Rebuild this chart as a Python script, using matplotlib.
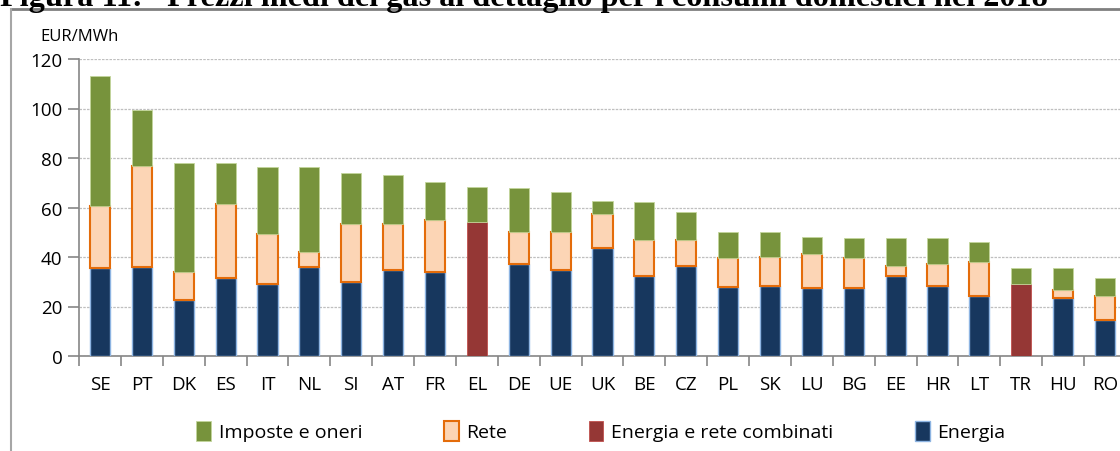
import matplotlib
matplotlib.use("Agg")
import matplotlib.pyplot as plt
from matplotlib.lines import Line2D
from matplotlib.patches import Patch
import numpy as np

# valori (EUR/MWh)
paesi = ["SE", "PT", "DK", "ES", "IT", "NL", "SI", "AT", "FR", "EL", "DE", "UE", "UK",
         "BE", "CZ", "PL", "SK", "LU", "BG", "EE", "HR", "LT", "TR", "HU", "RO"]
energia = [35.6, 36.0, 22.8, 31.7, 29.2, 36.0, 30.0, 34.8, 34.1, 0, 37.2, 34.7, 43.6,
           32.3, 36.4, 27.7, 28.4, 27.5, 27.5, 32.3, 28.4, 24.4, 0, 23.3, 14.4]
rete = [24.9, 40.8, 11.0, 29.6, 20.0, 5.9, 23.2, 18.4, 20.9, 0, 12.8, 15.3, 13.6,
        14.6, 10.5, 11.9, 11.8, 13.6, 12.1, 4.1, 8.6, 13.4, 0, 3.2, 9.7]
combinati = [0, 0, 0, 0, 0, 0, 0, 0, 0, 54.0, 0, 0, 0,
             0, 0, 0, 0, 0, 0, 0, 0, 0, 29.0, 0, 0]
imposte = [52.5, 22.6, 44.3, 16.8, 27.3, 34.6, 20.9, 20.1, 15.2, 14.4, 17.7, 16.1, 5.6,
           15.2, 11.1, 10.4, 9.8, 7.1, 7.9, 11.1, 10.5, 8.1, 6.4, 8.9, 7.3]

titolo = "Figura 11:   Prezzi medi del gas al dettaglio per i consumi domestici nel 2018"

plt.rcParams['font.family'] = ['Open Sans', 'DejaVu Sans']

fig = plt.figure(figsize=(11.2, 4.52), dpi=100)
ax = fig.add_axes([79/1120, 95/452, 1047/1120, 297/452])

x = np.arange(len(paesi))
w = 0.48
energia = np.array(energia)
rete = np.array(rete)
combinati = np.array(combinati)
imposte = np.array(imposte)

stili = {
    "imp": dict(facecolor="#77933C", edgecolor="#C3D69B", linewidth=0.6),
    "ret": dict(facecolor="#FCD5B5", edgecolor="#E46C0A", linewidth=1.5),
    "com": dict(facecolor="#953735", edgecolor="#C0504D", linewidth=0.6),
    "ene": dict(facecolor="#17375E", edgecolor="#8DB4E2", linewidth=1.0),
}

b_en = ax.bar(x, energia, w, zorder=3, **stili["ene"])
b_re = ax.bar(x, rete, w, bottom=energia, zorder=3, **stili["ret"])
b_co = ax.bar(x, combinati, w, zorder=3, **stili["com"])
b_im = ax.bar(x, imposte, w, bottom=energia + rete + combinati, zorder=3, **stili["imp"])
# nascondi i segmenti a zero
for bars, vals in [(b_en, energia), (b_re, rete), (b_co, combinati)]:
    for b, v in zip(bars, vals):
        if v == 0:
            b.set_visible(False)

ax.set_xlim(-0.5, len(paesi) - 0.5)
ax.set_ylim(0, 120)
ax.set_yticks(np.arange(0, 121, 20))
ax.yaxis.grid(True, color="#BFBFBF", linestyle=(0, (2, 1)), linewidth=0.9, zorder=0)
ax.set_axisbelow(True)

ax.set_xticks(x)
ax.set_xticklabels(paesi)
ax.set_xticks(np.arange(-0.5, len(paesi), 1), minor=True)
ax.tick_params(axis='x', which='major', length=0, pad=14, labelsize=13.5, colors="#000000")
ax.tick_params(axis='x', which='minor', length=7, width=1.2, color="#868686")
ax.tick_params(axis='y', length=8, width=1.2, color="#868686", labelsize=13.5, pad=4)

for s in ["top", "right"]:
    ax.spines[s].set_visible(False)
for s in ["left", "bottom"]:
    ax.spines[s].set_color("#868686")
    ax.spines[s].set_linewidth(1.2)

fig.text(40/1120, 1 - 37/452, "EUR/MWh", fontsize=12, va="center", ha="left")

handles = [Patch(**stili["imp"]), Patch(**stili["ret"]), Patch(**stili["com"]), Patch(**stili["ene"])]
leg = fig.legend(handles,
                 ["Imposte e oneri", "Rete", "Energia e rete combinati", "Energia"],
                 loc="center", bbox_to_anchor=(601/1120, 1 - 432/452),
                 ncol=4, frameon=False, fontsize=14, handlelength=0.75, handleheight=1.2,
                 handletextpad=0.4, columnspacing=4.2)

# cornice e titolo tagliato in alto
fig.add_artist(Line2D([11/1120, 1], [1 - 10/452, 1 - 10/452], transform=fig.transFigure,
                      color="#7F7F7F", linewidth=2))
fig.add_artist(Line2D([11/1120, 11/1120], [0, 1 - 10/452], transform=fig.transFigure,
                      color="#A6A6A6", linewidth=1.5))
fig.text(0, 1 - 6/452, titolo, family="Liberation Serif", fontweight="bold",
         fontsize=23.2, va="baseline", ha="left")

fig.savefig("out.png", dpi=100)
